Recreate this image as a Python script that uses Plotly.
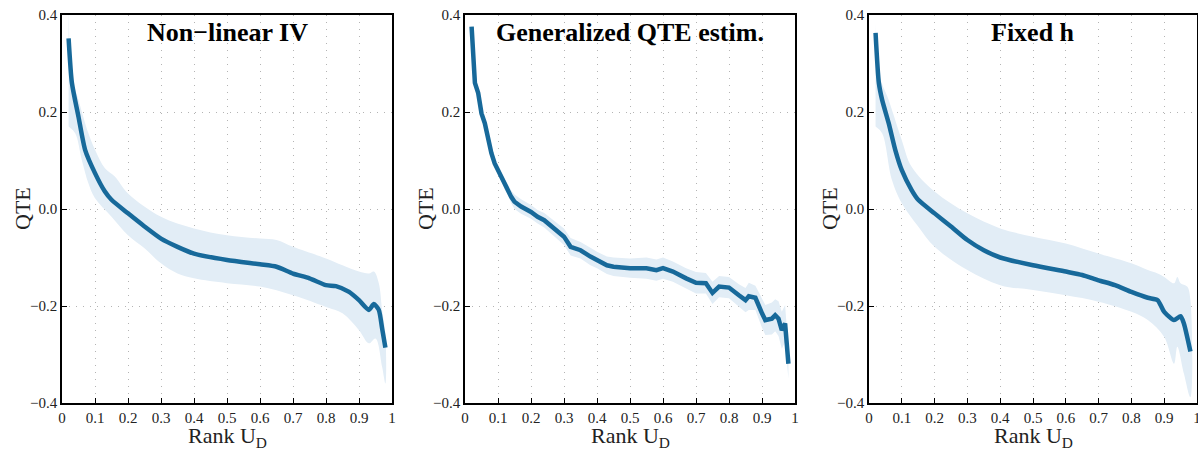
import plotly.graph_objects as go

# ---------- Panel 1: Non-linear IV ----------
p1_x = [0.02, 0.03, 0.05, 0.07, 0.10, 0.13, 0.15, 0.20, 0.25, 0.30, 0.35, 0.40, 0.50, 0.60, 0.65,
        0.70, 0.75, 0.80, 0.83, 0.87, 0.90, 0.93, 0.945, 0.96, 0.97, 0.98]
p1_y = [0.352, 0.26, 0.19, 0.122, 0.074, 0.036, 0.019, -0.009, -0.036, -0.061, -0.078, -0.092, -0.105,
        -0.114, -0.119, -0.133, -0.143, -0.157, -0.159, -0.171, -0.188, -0.208, -0.196, -0.208, -0.246, -0.286]
p1_bx = [0.02, 0.03, 0.05, 0.08, 0.10, 0.13, 0.16, 0.20, 0.30, 0.40, 0.50, 0.60, 0.65, 0.70, 0.80,
         0.85, 0.90, 0.93, 0.945, 0.96, 0.97, 0.98]
p1_up = [0.44, 0.273, 0.225, 0.156, 0.122, 0.084, 0.067, 0.032, -0.016, -0.040, -0.054, -0.061, -0.064,
         -0.078, -0.102, -0.116, -0.129, -0.133, -0.129, -0.153, -0.208, -0.257]
p1_lx = [0.02, 0.04, 0.06, 0.08, 0.10, 0.15, 0.20, 0.25, 0.30, 0.35, 0.40, 0.50, 0.60, 0.70, 0.80,
         0.85, 0.90, 0.93, 0.95, 0.97, 0.98]
p1_lo = [0.17, 0.156, 0.101, 0.053, 0.022, -0.016, -0.054, -0.081, -0.112, -0.133, -0.143, -0.153,
         -0.160, -0.178, -0.202, -0.215, -0.250, -0.277, -0.267, -0.325, -0.36]

# ---------- Panel 2: Generalized QTE estim. ----------
p2_x = [0.02, 0.03, 0.04, 0.05, 0.06, 0.07, 0.08, 0.09, 0.10, 0.11, 0.12, 0.13, 0.14, 0.15, 0.17,
        0.20, 0.22, 0.24, 0.27, 0.30, 0.32, 0.35, 0.38, 0.40, 0.43, 0.45, 0.50, 0.55, 0.58, 0.60,
        0.63, 0.67, 0.70, 0.73, 0.75, 0.77, 0.80, 0.83, 0.85, 0.86, 0.88, 0.90, 0.91, 0.93, 0.94,
        0.95, 0.96, 0.97, 0.98]
p2_y = [0.376, 0.26, 0.239, 0.197, 0.177, 0.142, 0.115, 0.094, 0.080, 0.067, 0.050, 0.039, 0.025,
        0.015, 0.005, -0.006, -0.016, -0.023, -0.040, -0.057, -0.078, -0.085, -0.098, -0.105, -0.116,
        -0.119, -0.122, -0.122, -0.126, -0.122, -0.129, -0.143, -0.152, -0.153, -0.173, -0.160,
        -0.162, -0.178, -0.188, -0.180, -0.183, -0.215, -0.229, -0.226, -0.219, -0.226, -0.250,
        -0.236, -0.319]
p2_up = [0.38, 0.265, 0.244, 0.202, 0.182, 0.147, 0.121, 0.100, 0.087, 0.075, 0.060, 0.050, 0.038,
         0.030, 0.020, 0.008, -0.002, -0.008, -0.024, -0.040, -0.060, -0.068, -0.080, -0.088, -0.098,
         -0.100, -0.102, -0.100, -0.104, -0.100, -0.108, -0.122, -0.130, -0.132, -0.150, -0.138,
         -0.140, -0.155, -0.163, -0.152, -0.158, -0.185, -0.198, -0.193, -0.186, -0.190, -0.212,
         -0.198, -0.29]
p2_lo = [0.372, 0.255, 0.234, 0.192, 0.172, 0.137, 0.109, 0.088, 0.073, 0.059, 0.040, 0.028, 0.012,
         0.000, -0.010, -0.020, -0.030, -0.038, -0.056, -0.074, -0.096, -0.102, -0.116, -0.122,
         -0.134, -0.138, -0.142, -0.144, -0.148, -0.144, -0.150, -0.164, -0.174, -0.174, -0.196,
         -0.182, -0.184, -0.201, -0.213, -0.208, -0.208, -0.245, -0.260, -0.259, -0.252, -0.262,
         -0.288, -0.274, -0.35]

# ---------- Panel 3: Fixed h ----------
p3_x = [0.02, 0.03, 0.04, 0.06, 0.08, 0.10, 0.13, 0.15, 0.20, 0.25, 0.30, 0.35, 0.40, 0.50, 0.60,
        0.65, 0.70, 0.75, 0.80, 0.85, 0.88, 0.90, 0.93, 0.95, 0.96, 0.98]
p3_y = [0.363, 0.26, 0.225, 0.177, 0.122, 0.080, 0.039, 0.019, -0.009, -0.036, -0.064, -0.085, -0.100,
        -0.116, -0.129, -0.136, -0.147, -0.157, -0.171, -0.183, -0.188, -0.212, -0.229, -0.221,
        -0.236, -0.294]
p3_bx = [0.02, 0.03, 0.06, 0.10, 0.13, 0.20, 0.30, 0.40, 0.50, 0.60, 0.70, 0.80, 0.85, 0.88, 0.90,
         0.93, 0.94, 0.95, 0.97, 0.98]
p3_up = [0.44, 0.28, 0.225, 0.142, 0.087, 0.036, -0.009, -0.040, -0.057, -0.071, -0.092, -0.112,
         -0.126, -0.133, -0.140, -0.153, -0.140, -0.153, -0.160, -0.188]
p3_lx = [0.02, 0.04, 0.07, 0.10, 0.15, 0.20, 0.30, 0.40, 0.50, 0.60, 0.70, 0.80, 0.85, 0.90, 0.93,
         0.94, 0.96, 0.98]
p3_lo = [0.170, 0.156, 0.060, 0.012, -0.036, -0.078, -0.126, -0.157, -0.167, -0.178, -0.191, -0.212,
         -0.229, -0.264, -0.319, -0.284, -0.339, -0.388]

titles = ["Non\u2212linear IV", "Generalized QTE estim.", "Fixed h"]
x_ticks = [0, 0.1, 0.2, 0.3, 0.4, 0.5, 0.6, 0.7, 0.8, 0.9, 1]
x_ticktext = ["0", "0.1", "0.2", "0.3", "0.4", "0.5", "0.6", "0.7", "0.8", "0.9", "1"]
y_ticks = [-0.4, -0.2, 0.0, 0.2, 0.4]
y_ticktext = ["\u22120.4", "\u22120.2", "0.0", "0.2", "0.4"]

LINE = "#17699a"
BAND = "rgb(226,237,246)"
FONT = "Liberation Serif"

panels = [
    (p1_x, p1_y, p1_bx, p1_up, p1_lx, p1_lo, "spline"),
    (p2_x, p2_y, p2_x, p2_up, p2_x, p2_lo, "linear"),
    (p3_x, p3_y, p3_bx, p3_up, p3_lx, p3_lo, "spline"),
]

W, H = 1198, 453
domains = [(62, 392), (465, 795), (869, 1197)]
top_px, bot_px = 15, 403
y_dom = [1 - bot_px / H, 1 - top_px / H]

fig = go.Figure()
for i, (lx, ly, bx, bu, lox, lo, shape) in enumerate(panels):
    xa = "x" if i == 0 else f"x{i+1}"
    ya = "y" if i == 0 else f"y{i+1}"
    fig.add_trace(go.Scatter(x=list(bx) + list(lox)[::-1], y=list(bu) + list(lo)[::-1],
                             fill="toself", fillcolor=BAND, line=dict(width=0, shape=shape),
                             mode="lines", hoverinfo="skip", showlegend=False,
                             xaxis=xa, yaxis=ya))
    fig.add_trace(go.Scatter(x=lx, y=ly, mode="lines",
                             line=dict(color=LINE, width=4.5, shape=shape, smoothing=0.6),
                             showlegend=False, xaxis=xa, yaxis=ya))
    axis_common = dict(showline=True, linecolor="black", linewidth=1.6, mirror=True,
                       ticks="inside", ticklen=5, tickcolor="black", tickwidth=1,
                       showgrid=True, gridcolor="#b4b4b4", griddash="1px,6px", gridwidth=1,
                       zeroline=False, automargin=False, ticklabeloverflow="allow",
                       tickfont=dict(family=FONT, size=15, color="#222"))
    d0, d1 = domains[i]
    fig.update_layout(**{
        ("xaxis" if i == 0 else f"xaxis{i+1}"): dict(
            domain=[d0 / W, d1 / W], range=[0, 1], anchor=ya,
            tickvals=x_ticks, ticktext=x_ticktext, ticklabelstandoff=0,
            **axis_common),
        ("yaxis" if i == 0 else f"yaxis{i+1}"): dict(
            domain=y_dom, range=[-0.4, 0.4], anchor=xa,
            tickvals=y_ticks, ticktext=y_ticktext, ticklabelstandoff=0,
            **axis_common),
    })
    fig.add_annotation(text=f"<b>{titles[i]}</b>", xref=f"{xa} domain", yref=f"{ya} domain",
                       x=0.5, y=0.998, xanchor="center", yanchor="top", showarrow=False,
                       font=dict(family=FONT, size=26, color="black"))
    # axis titles
    fig.add_annotation(text="Rank U<sub>D</sub>", xref="paper", yref="paper",
                       x=(d0 + d1) / 2 / W, y=1 - 437 / H,
                       xanchor="center", yanchor="middle",
                       showarrow=False, font=dict(family=FONT, size=22, color="#222"))
    fig.add_annotation(text="QTE", xref="paper", yref="paper", textangle=-90,
                       x=(d0 - 40) / W, y=1 - 209 / H,
                       xanchor="center", yanchor="middle",
                       showarrow=False, font=dict(family=FONT, size=22, color="#222"))

fig.update_layout(width=W, height=H, margin=dict(l=0, r=0, t=0, b=0),
                  plot_bgcolor="white", paper_bgcolor="white")
fig.write_html("out.html", config={"displayModeBar": False},
               post_script="document.body.style.margin='0';document.body.style.overflow='hidden';")
